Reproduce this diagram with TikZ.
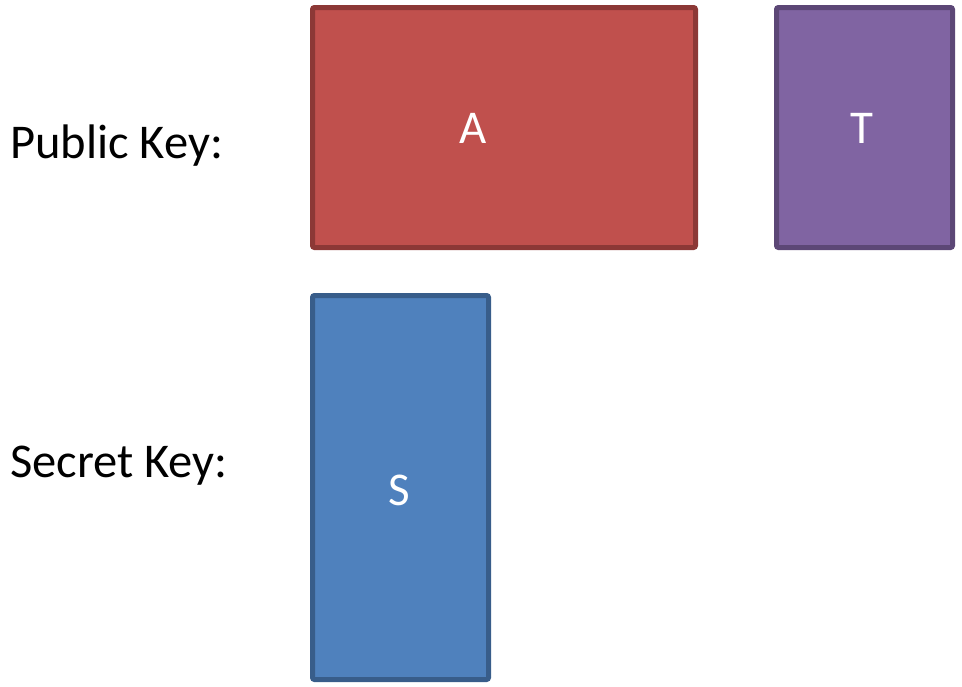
\documentclass[tikz,border=0pt]{standalone}
\usepackage{fontspec}
\setmainfont{Carlito}
\definecolor{afill}{HTML}{C0504D}
\definecolor{aline}{HTML}{8C3836}
\definecolor{tfill}{HTML}{8064A2}
\definecolor{tline}{HTML}{5C4776}
\definecolor{sfill}{HTML}{4F81BD}
\definecolor{sline}{HTML}{385D8A}
\tikzset{
  keybox/.style={line width=5pt, rounded corners=2pt},
  boxlabel/.style={text=white, inner sep=0pt, anchor=base, font=\fontsize{47}{56}\selectfont},
  rowlabel/.style={text=black, inner sep=0pt, anchor=base west, font=\fontsize{48.5}{58}\selectfont}
}
\begin{document}
\begin{tikzpicture}[x=1pt, y=-1pt]
  \useasboundingbox (0,0) rectangle (962,686);
  % matrix blocks
  \draw[keybox, fill=afill, draw=aline] (312.5,7.5) rectangle (695.5,247.5);
  \draw[keybox, fill=tfill, draw=tline] (776.5,7.5) rectangle (952.5,247.5);
  \draw[keybox, fill=sfill, draw=sline] (312.5,295.5) rectangle (488.5,679.5);
  % block labels
  \node[boxlabel] (la) at (473,143) {A};
  \node[boxlabel] (lt) at (862,143) {T};
  \node[boxlabel] (ls) at (399,505) {S};
  % row labels
  \node[rowlabel] (pk) at (10,158) {Public Key:};
  \node[rowlabel] (sk) at (10,477) {Secret Key:};
\end{tikzpicture}
\end{document}
